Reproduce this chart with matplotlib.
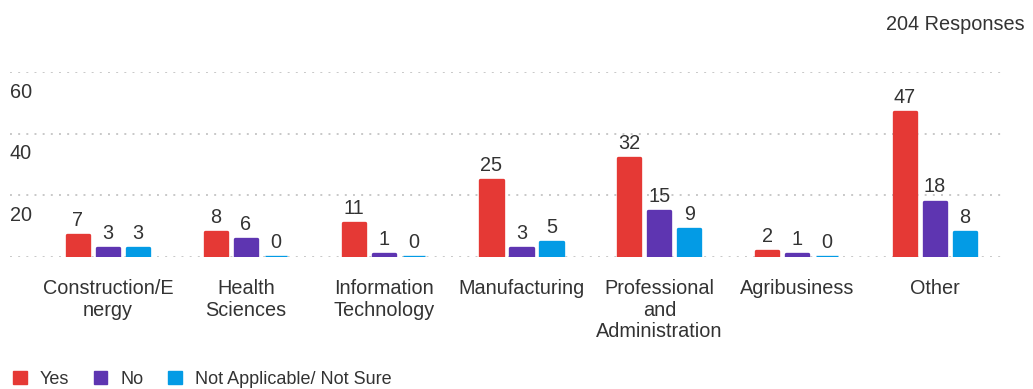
import matplotlib
matplotlib.use("Agg")
import matplotlib.pyplot as plt
import numpy as np
from matplotlib.patches import Patch

plt.rcParams['font.family'] = ['Liberation Sans', 'DejaVu Sans']

categories = ["Construction/E\nnergy", "Health\nSciences", "Information\nTechnology",
              "Manufacturing", "Professional\nand\nAdministration", "Agribusiness", "Other"]
series_names = ["Yes", "No", "Not Applicable/ Not Sure"]
yes_vals = [7, 8, 11, 25, 32, 2, 47]
no_vals = [3, 6, 1, 3, 15, 1, 18]
na_vals = [3, 0, 0, 5, 9, 0, 8]
y_ticks = [20, 40, 60]
total_label = "204 Responses"

colors = ["#E53935", "#5E35B1", "#039BE5"]
text_color = "#333333"
fs = 14.3

W, H = 1033, 389
fig = plt.figure(figsize=(W / 100, H / 100), dpi=100)
ax_left, ax_right, ax_top, ax_bottom = 10, 1005, 72, 257
ax = fig.add_axes([ax_left / W, 1 - ax_bottom / H, (ax_right - ax_left) / W, (ax_bottom - ax_top) / H])

x = np.arange(len(categories))
stride = 0.2177
bar_w = 0.16
for i, (vals, col) in enumerate(zip([yes_vals, no_vals, na_vals], colors)):
    pos = x + (i - 1) * stride
    ax.bar(pos, vals, width=bar_w, color=col, edgecolor=col, linewidth=2.4,
           joinstyle='round', zorder=3, label=series_names[i])
    for p, v in zip(pos, vals):
        ax.annotate(str(v), xy=(p, v), xytext=(0, 5), textcoords='offset pixels',
                    ha='center', va='bottom', fontsize=fs, color=text_color)

ax.set_xlim(-0.711, 6.508)
ax.set_ylim(0, 60)
for v in [0] + y_ticks:
    ax.axhline(v, color="#c8c8c8", linewidth=1.4, linestyle=(0, (1, 3.2)), zorder=1)
for v in y_ticks:
    ax.annotate(str(v), xy=(0, v), xycoords=('axes fraction', 'data'),
                xytext=(0, -20), textcoords='offset pixels',
                ha='left', va='center', fontsize=fs, color=text_color)

ax.set_yticks([])
ax.set_xticks(x)
ax.set_xticklabels(categories, fontsize=fs, color=text_color, linespacing=1.17, va='top')
ax.tick_params(axis='x', length=0, pad=16)
for s in ax.spines.values():
    s.set_visible(False)

fig.text(1025 / W, 1 - 25 / H, total_label, ha='right', va='center',
         fontsize=fs, color=text_color)

handles = [Patch(facecolor=c, edgecolor=c, linewidth=1, joinstyle='round') for c in colors]
fig.legend(handles, series_names, loc='center left', bbox_to_anchor=(13 / W, 1 - 379 / H),
           ncol=3, frameon=False, fontsize=13, handlelength=0.75, handleheight=0.75,
           handletextpad=0.72, columnspacing=1.38, labelcolor=text_color,
           borderpad=0, borderaxespad=0)

fig.savefig("out.png", dpi=100, facecolor="white")
